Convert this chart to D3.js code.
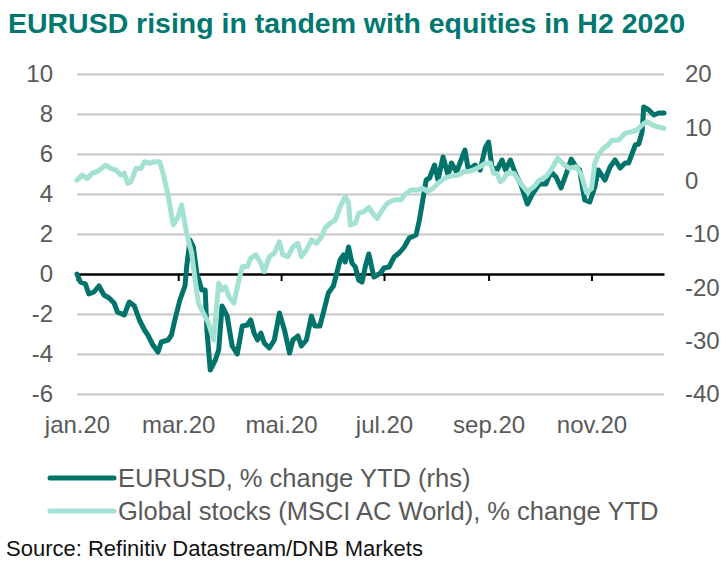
<!DOCTYPE html>
<html>
<head>
<meta charset="utf-8">
<script src="https://cdn.jsdelivr.net/npm/d3@7"></script>
<style>
  html, body { margin: 0; padding: 0; background: #fff; }
  svg { display: block; font-family: "Liberation Sans", Arial, sans-serif; }
</style>
</head>
<body>
<svg id="chart" width="728" height="569"></svg>
<script>
// ---- data ----
const titleText = "EURUSD rising in tandem with equities in H2 2020";
const sourceText = "Source: Refinitiv Datastream/DNB Markets";
const seriesNames = ["EURUSD, % change YTD (rhs)", "Global stocks (MSCI AC World), % change YTD"];
const xTickDates = ["2020-01-01","2020-03-01","2020-05-01","2020-07-01","2020-09-01","2020-11-01"];
const xTickLabels = ["jan.20","mar.20","mai.20","jul.20","sep.20","nov.20"];
const leftTicks = [-6,-4,-2,0,2,4,6,8,10];
const rightTicks = [-40,-30,-20,-10,0,10,20];

// EURUSD % change YTD (plotted against left scale)
const eurusd = [
["2020-01-01",0.0],["2020-01-03",-0.4],["2020-01-06",-0.5],["2020-01-08",-1.0],["2020-01-11",-0.9],
["2020-01-14",-0.6],["2020-01-17",-1.05],["2020-01-20",-1.2],["2020-01-23",-1.45],["2020-01-25",-1.9],
["2020-01-29",-2.05],["2020-02-01",-1.4],["2020-02-04",-1.6],["2020-02-07",-2.3],["2020-02-10",-2.8],
["2020-02-12",-3.05],["2020-02-15",-3.55],["2020-02-18",-3.9],["2020-02-20",-3.4],["2020-02-24",-3.3],
["2020-02-26",-3.05],["2020-02-28",-2.3],["2020-03-02",-1.3],["2020-03-05",-0.6],["2020-03-06",0.35],
["2020-03-08",1.7],["2020-03-10",1.35],["2020-03-12",0.05],["2020-03-15",-0.8],["2020-03-17",-0.8],
["2020-03-18",-2.8],["2020-03-20",-4.8],["2020-03-23",-4.3],["2020-03-25",-3.8],["2020-03-27",-1.6],
["2020-03-30",-2.1],["2020-04-02",-3.6],["2020-04-05",-4.0],["2020-04-08",-2.6],["2020-04-11",-2.55],
["2020-04-13",-2.3],["2020-04-15",-2.95],["2020-04-17",-3.3],["2020-04-19",-2.95],["2020-04-21",-3.45],
["2020-04-24",-3.7],["2020-04-27",-3.3],["2020-04-30",-1.95],["2020-05-03",-2.8],["2020-05-06",-3.95],
["2020-05-08",-3.3],["2020-05-11",-3.1],["2020-05-13",-3.6],["2020-05-16",-3.3],["2020-05-19",-2.1],
["2020-05-21",-2.6],["2020-05-24",-2.6],["2020-05-26",-1.95],["2020-05-29",-0.95],["2020-06-01",-0.6],
["2020-06-03",0.05],["2020-06-05",0.7],["2020-06-07",0.95],["2020-06-08",0.6],["2020-06-10",1.35],
["2020-06-12",0.55],["2020-06-14",0.35],["2020-06-16",-0.3],["2020-06-18",-0.4],["2020-06-20",0.4],
["2020-06-22",1.0],["2020-06-25",-0.15],["2020-06-29",0.05],["2020-07-01",0.3],["2020-07-04",0.35],
["2020-07-07",0.85],["2020-07-10",1.05],["2020-07-13",1.35],["2020-07-16",1.8],["2020-07-20",1.95],
["2020-07-22",2.7],["2020-07-24",3.7],["2020-07-26",4.7],["2020-07-28",4.8],["2020-07-31",5.45],
["2020-08-02",4.7],["2020-08-05",5.85],["2020-08-08",4.95],["2020-08-10",5.55],["2020-08-13",5.1],
["2020-08-18",6.2],["2020-08-20",5.2],["2020-08-24",5.45],["2020-08-27",5.2],["2020-08-30",6.3],
["2020-09-01",6.6],["2020-09-03",5.35],["2020-09-06",5.2],["2020-09-09",5.7],["2020-09-11",5.2],
["2020-09-14",5.7],["2020-09-17",5.0],["2020-09-20",4.5],["2020-09-24",3.5],["2020-09-27",4.0],
["2020-10-01",4.5],["2020-10-05",4.5],["2020-10-08",5.1],["2020-10-11",4.85],["2020-10-14",4.3],
["2020-10-17",5.0],["2020-10-20",5.75],["2020-10-23",5.35],["2020-10-25",5.2],["2020-10-28",3.7],
["2020-10-31",3.6],["2020-11-03",4.35],["2020-11-05",5.2],["2020-11-09",4.7],["2020-11-12",5.35],
["2020-11-15",5.7],["2020-11-18",5.3],["2020-11-21",5.55],["2020-11-23",5.55],["2020-11-25",6.0],
["2020-11-27",6.45],["2020-11-29",6.5],["2020-12-01",7.1],["2020-12-02",8.35],["2020-12-05",8.2],
["2020-12-08",7.95],["2020-12-11",8.05],["2020-12-14",8.05]
];

// Global stocks % change YTD (plotted against right scale)
const stocks = [
["2020-01-01",0.1],["2020-01-04",1.05],["2020-01-07",0.4],["2020-01-10",1.4],["2020-01-13",1.7],
["2020-01-18",2.9],["2020-01-21",2.3],["2020-01-24",2.0],["2020-01-27",1.05],["2020-01-29",1.4],
["2020-01-31",-0.5],["2020-02-02",-0.2],["2020-02-05",2.3],["2020-02-08",2.3],["2020-02-10",3.55],
["2020-02-13",3.25],["2020-02-16",3.55],["2020-02-19",3.55],["2020-02-21",1.4],["2020-02-24",-2.7],
["2020-02-27",-8.3],["2020-03-01",-6.75],["2020-03-03",-4.55],["2020-03-06",-9.9],["2020-03-09",-13.6],
["2020-03-11",-18.6],["2020-03-13",-23.0],["2020-03-16",-24.9],["2020-03-19",-26.75],["2020-03-22",-29.9],
["2020-03-25",-19.25],["2020-03-27",-20.5],["2020-03-29",-19.9],["2020-03-31",-21.75],["2020-04-03",-23.0],
["2020-04-06",-18.6],["2020-04-08",-16.1],["2020-04-11",-16.1],["2020-04-13",-14.55],["2020-04-16",-13.9],
["2020-04-19",-15.5],["2020-04-21",-17.05],["2020-04-24",-14.25],["2020-04-27",-13.6],["2020-04-30",-11.45],
["2020-05-02",-13.9],["2020-05-05",-14.25],["2020-05-08",-12.4],["2020-05-11",-11.75],["2020-05-13",-14.25],
["2020-05-16",-13.0],["2020-05-19",-11.1],["2020-05-22",-11.75],["2020-05-25",-10.5],["2020-05-27",-8.9],
["2020-05-30",-8.0],["2020-06-02",-7.4],["2020-06-05",-4.9],["2020-06-08",-3.0],["2020-06-10",-4.25],
["2020-06-11",-8.3],["2020-06-14",-8.0],["2020-06-16",-6.1],["2020-06-19",-5.8],["2020-06-22",-5.0],
["2020-06-25",-6.45],["2020-06-27",-7.05],["2020-06-30",-5.5],["2020-07-03",-4.25],["2020-07-07",-3.6],
["2020-07-11",-3.6],["2020-07-14",-2.4],["2020-07-17",-1.75],["2020-07-21",-1.75],["2020-07-24",-1.45],
["2020-07-27",-2.05],["2020-07-30",-1.45],["2020-08-02",-0.5],["2020-08-06",0.45],["2020-08-10",0.9],
["2020-08-14",1.05],["2020-08-17",1.7],["2020-08-20",1.7],["2020-08-23",2.0],["2020-08-27",2.6],
["2020-08-30",3.25],["2020-09-02",3.3],["2020-09-04",1.4],["2020-09-06",1.3],["2020-09-08",-0.2],
["2020-09-10",0.3],["2020-09-12",1.4],["2020-09-16",1.4],["2020-09-20",-0.5],["2020-09-24",-2.05],
["2020-09-28",-1.1],["2020-10-01",0.1],["2020-10-05",0.75],["2020-10-08",2.0],["2020-10-12",4.2],
["2020-10-16",2.95],["2020-10-19",2.3],["2020-10-23",2.6],["2020-10-26",1.05],["2020-10-29",-2.2],
["2020-11-01",-1.5],["2020-11-03",3.25],["2020-11-05",4.8],["2020-11-08",6.05],["2020-11-11",6.7],
["2020-11-13",7.6],["2020-11-17",7.6],["2020-11-21",8.9],["2020-11-25",9.2],["2020-11-28",9.5],
["2020-12-01",10.45],["2020-12-04",11.05],["2020-12-07",10.45],["2020-12-10",10.1],["2020-12-14",9.8]
];

// ---- drawing ----
const parse = d3.timeParse("%Y-%m-%d");
const svg = d3.select("#chart");
const plot = { left: 77, right: 664, top: 74, bottom: 394 };
const darkColor = "#00736a";
const lightColor = "#a3e2d3";
const textGrey = "#595959";
const fmt = d => String(d); // plain hyphen-minus like the reference

const x = d3.scaleTime()
  .domain([parse("2020-01-01"), parse("2020-12-14")])
  .range([plot.left, plot.right]);
const yL = d3.scaleLinear().domain([-6, 10]).range([plot.bottom, plot.top]);
const yR = d3.scaleLinear().domain([-40, 20]).range([plot.bottom, plot.top]);

// Title
svg.append("text")
  .attr("x", 8).attr("y", 33)
  .attr("font-size", 28).attr("font-weight", "bold")
  .attr("fill", "#00786f")
  .attr("textLength", 677).attr("lengthAdjust", "spacingAndGlyphs")
  .text(titleText);

// Gridlines (left scale)
const grid = svg.append("g")
  .attr("transform", `translate(${plot.left},0)`)
  .call(d3.axisLeft(yL).tickValues(leftTicks.filter(v => v !== 0))
    .tickSize(-(plot.right - plot.left)).tickFormat(""));
grid.select(".domain").remove();
grid.selectAll("line").attr("stroke", "#c6c6c6").attr("stroke-width", 2);

// Left axis labels
const gl = svg.append("g")
  .attr("transform", `translate(${plot.left},0)`)
  .call(d3.axisLeft(yL).tickValues(leftTicks).tickSize(0).tickPadding(24).tickFormat(fmt));
gl.select(".domain").remove();
gl.selectAll("text").attr("font-size", 24).attr("fill", textGrey)
  .attr("font-family", "Liberation Sans, Arial, sans-serif");

// Right axis labels
const gr = svg.append("g")
  .attr("transform", `translate(${plot.right},0)`)
  .call(d3.axisRight(yR).tickValues(rightTicks).tickSize(0).tickPadding(21).tickFormat(fmt));
gr.select(".domain").remove();
gr.selectAll("text").attr("font-size", 24).attr("fill", textGrey)
  .attr("font-family", "Liberation Sans, Arial, sans-serif");

// Zero line with month ticks
const tickDates = xTickDates.map(parse);
const gz = svg.append("g")
  .attr("transform", `translate(0,${yL(0)})`)
  .call(d3.axisBottom(x).tickValues(tickDates).tickSize(7).tickSizeOuter(0).tickFormat(""));
gz.select(".domain").attr("stroke", "#000").attr("stroke-width", 2.5);
gz.selectAll(".tick line").attr("stroke", "#000").attr("stroke-width", 2);

// X labels
const gx = svg.append("g")
  .attr("transform", `translate(0,${plot.bottom})`)
  .call(d3.axisBottom(x).tickValues(tickDates).tickSize(0).tickPadding(22)
    .tickFormat((d, i) => xTickLabels[i]));
gx.select(".domain").remove();
gx.selectAll("text").attr("font-size", 24).attr("fill", textGrey)
  .attr("font-family", "Liberation Sans, Arial, sans-serif");

// Lines
const lineL = d3.line().x(d => x(parse(d[0]))).y(d => yL(d[1]));
const lineR = d3.line().x(d => x(parse(d[0]))).y(d => yR(d[1]));

svg.append("path").datum(eurusd)
  .attr("d", lineL).attr("fill", "none")
  .attr("stroke", darkColor).attr("stroke-width", 5)
  .attr("stroke-linejoin", "round").attr("stroke-linecap", "round");

svg.append("path").datum(stocks)
  .attr("d", lineR).attr("fill", "none")
  .attr("stroke", lightColor).attr("stroke-width", 5)
  .attr("stroke-linejoin", "round").attr("stroke-linecap", "round");

// Legend
const legend = svg.append("g");
const legendRows = [{ name: seriesNames[0], color: darkColor, y: 478 },
                    { name: seriesNames[1], color: lightColor, y: 511 }];
legendRows.forEach(r => {
  legend.append("line")
    .attr("x1", 50).attr("x2", 114).attr("y1", r.y).attr("y2", r.y)
    .attr("stroke", r.color).attr("stroke-width", 5).attr("stroke-linecap", "round");
  legend.append("text")
    .attr("x", 118).attr("y", r.y + 9)
    .attr("font-size", 25.5).attr("fill", textGrey)
    .text(r.name);
});

// Source
svg.append("text")
  .attr("x", 6).attr("y", 556)
  .attr("font-size", 22).attr("fill", "#111")
  .text(sourceText);
</script>
</body>
</html>
